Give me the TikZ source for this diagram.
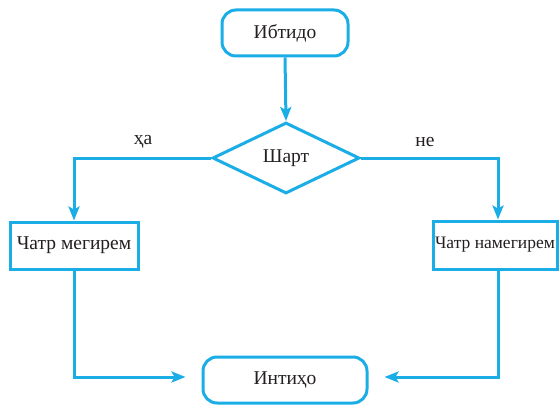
\documentclass[tikz,border=0pt]{standalone}
\usepackage{fontspec}
\setmainfont{Liberation Serif}
\usetikzlibrary{shapes.geometric,arrows.meta}
\definecolor{fc}{HTML}{1AADE6}
\definecolor{tc}{HTML}{231F20}
\begin{document}
\begin{tikzpicture}[x=1pt,y=-1pt,
  every node/.style={text=tc,font=\fontsize{19.5}{22}\selectfont},
  term/.style={draw=fc,line width=3pt,rounded corners=14pt,fill=white,inner sep=0pt},
  proc/.style={draw=fc,line width=3pt,fill=white,inner sep=0pt},
  cond/.style={draw=fc,line width=3pt,diamond,fill=white,inner sep=0pt,minimum width=147pt,minimum height=71pt},
  arr/.style={draw=fc,line width=3pt,-{Stealth[length=14pt,width=11pt,inset=3pt]}},
  lbl/.style={text=tc}]
\useasboundingbox (0,0) rectangle (559,404);
\node[term,minimum width=126pt,minimum height=46pt] (start) at (285,33) {Ибтидо};
\node[cond] (c) at (286,158) {Шарт};
\node[proc,minimum width=128pt,minimum height=47pt] (yes) at (74,245.5) {Чатр мегирем};
\node[proc,minimum width=124pt,minimum height=48pt] (no) at (495,245) {\fontsize{17.5}{20}\selectfont Чатр намегирем};
\node[term,minimum width=164pt,minimum height=46pt] (end) at (285,380) {Интиҳо};
\node[lbl] (ha) at (143,142) {ҳа};
\node[lbl] (ne) at (425,142) {не};
\draw[arr] (start.south) -- (c.north);
\draw[arr] (c.west) -| (yes.north);
\draw[arr] (c.east) -| ([xshift=3pt]no.north);
\draw[arr,shorten >=16pt] (yes.south) |- ([yshift=3pt]end.west);
\draw[arr,shorten >=16pt] ([xshift=3pt]no.south) |- ([yshift=3pt]end.east);
\end{tikzpicture}
\end{document}
